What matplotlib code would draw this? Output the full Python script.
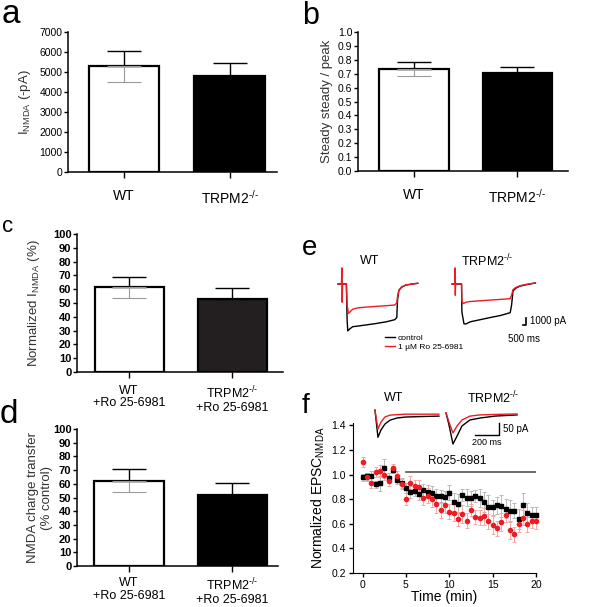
import numpy as np
import matplotlib
matplotlib.use('Agg')
import matplotlib.pyplot as plt

plt.rcParams['font.family'] = ['Liberation Sans', 'DejaVu Sans']
plt.rcParams['mathtext.fontset'] = 'custom'
plt.rcParams['mathtext.rm'] = 'Liberation Sans'
plt.rcParams['mathtext.it'] = 'Liberation Sans:italic'
plt.rcParams['mathtext.bf'] = 'Liberation Sans:bold'

W, H = 600, 607
RED = '#ed1c24'
KO = r'TRPM2$^{\text{-/-}}$'

# bar panels a-d
groups_ab = ['WT', KO]
groups_cd = ['WT\n+Ro 25-6981', KO + '\n+Ro 25-6981']

inmda_mean = [5280, 4820]
inmda_sem = [780, 620]
steady_mean = [0.734, 0.707]
steady_sem = [0.047, 0.041]
norm_inmda_mean = [61.5, 52.6]
norm_inmda_sem = [7.6, 8.4]
charge_mean = [62.3, 51.8]
charge_sem = [8.5, 9.0]

# panel e: NMDA current traces (s, pA)
e_wt_ctrl_t = [0, 1.2, 1.3, 1.4, 1.7, 2.1, 2.9, 4.0, 5.4, 6.9, 8.1, 8.4, 8.5, 8.7, 9.1, 9.7, 10.6, 11.4]
e_wt_ctrl_i = [0, 0, -5100, -6700, -6400, -6100, -6000, -5850, -5650, -5400, -5100, -4800, -2300, -900, -450, -150, 0, 100]
e_wt_ro_t = [0, 0.5, 0.55, 0.6, 0.65, 1.2, 1.3, 1.5, 2.1, 2.9, 4.0, 5.4, 6.9, 8.1, 8.4, 8.5, 8.7, 9.1, 9.7, 10.6, 11.4]
e_wt_ro_i = [0, 0, 2300, -2600, 0, 0, -3000, -4200, -3600, -3400, -3300, -3200, -3100, -3000, -2700, -1800, -900, -400, -150, 0, 100]
e_ko_ctrl_t = [0, 1.35, 1.4, 1.7, 2.0, 2.6, 4.0, 5.4, 6.9, 8.3, 8.5, 8.7, 9.1, 9.7, 10.6, 11.9]
e_ko_ctrl_i = [0, 0, -4000, -5700, -5700, -5400, -5100, -4800, -4500, -4100, -3000, -1000, -600, -300, -100, 150]
e_ko_ro_t = [0, 0.4, 0.43, 0.46, 0.5, 1.35, 1.4, 1.6, 2.0, 2.6, 4.0, 5.4, 6.9, 8.3, 8.5, 8.7, 9.1, 9.7, 10.6, 11.9]
e_ko_ro_i = [0, 0, 2300, -1600, 0, 0, -2400, -2800, -2600, -2500, -2400, -2300, -2200, -2100, -1600, -800, -500, -250, -50, 150]

# panel f: time course of normalized EPSC
time_min = np.arange(0, 20.5, 0.5)
epsc_wt = [0.978, 0.986, 0.99, 0.92, 0.93, 1.05, 0.975, 1.04, 0.96, 0.93,
           0.89, 0.856, 0.87, 0.846, 0.873, 0.862, 0.85, 0.83, 0.824, 0.816,
           0.854, 0.778, 0.765, 0.836, 0.813, 0.808, 0.824, 0.81, 0.776, 0.735,
           0.735, 0.75, 0.743, 0.724, 0.705, 0.708, 0.638, 0.75, 0.687, 0.673, 0.673]
epsc_wt_sem = [0.03, 0.03, 0.04, 0.03, 0.06, 0.08, 0.04, 0.03, 0.04, 0.04,
               0.04, 0.05, 0.04, 0.05, 0.05, 0.05, 0.06, 0.05, 0.05, 0.05,
               0.06, 0.07, 0.08, 0.05, 0.07, 0.06, 0.05, 0.07, 0.08, 0.1,
               0.06, 0.07, 0.09, 0.08, 0.09, 0.06, 0.08, 0.1, 0.08, 0.06, 0.06]
epsc_ko = [1.105, 0.98, 0.93, 1.02, 1.03, 1.0, 0.95, 1.057, 0.99, 0.925,
           0.80, 0.935, 0.91, 0.90, 0.81, 0.83, 0.80, 0.76, 0.71, 0.75,
           0.70, 0.69, 0.64, 0.68, 0.625, 0.71, 0.655, 0.65, 0.66, 0.62,
           0.59, 0.565, 0.615, 0.673, 0.55, 0.515, 0.595, 0.65, 0.595, 0.625, 0.62]
epsc_ko_sem = [0.04, 0.03, 0.04, 0.04, 0.05, 0.04, 0.04, 0.03, 0.04, 0.04,
               0.05, 0.05, 0.05, 0.06, 0.06, 0.06, 0.06, 0.07, 0.06, 0.06,
               0.06, 0.07, 0.06, 0.07, 0.06, 0.05, 0.06, 0.06, 0.07, 0.06,
               0.07, 0.06, 0.07, 0.06, 0.07, 0.06, 0.06, 0.06, 0.06, 0.06, 0.06]
ro_window = [5, 20]

# panel f inset: EPSC traces (ms, pA)
f_trace_t_wt = [0, 25, 50, 83, 125, 183, 250, 375, 533]
f_wt_ctrl = [0, -113, -83, -58, -42, -33, -29, -27, -25]
f_wt_ro = [0, -79, -50, -29, -21, -19, -17, -17, -17]
f_trace_t_ko = [0, 25, 58, 92, 133, 200, 283, 408, 592]
f_ko_ctrl = [-12, -62, -141, -108, -66, -41, -33, -25, -20]
f_ko_ro = [-12, -50, -95, -66, -41, -25, -20, -18, -16]

fig = plt.figure(figsize=(W / 100, H / 100), dpi=100)


def px_axes(x0, y0, x1, y1):
    return fig.add_axes([x0 / W, 1 - y1 / H, (x1 - x0) / W, (y1 - y0) / H])


def fig_text(x, y, s, **kw):
    fig.text(x / W, 1 - y / H, s, **kw)


def bar_panel(ax, means, sems, fills, ylim, yticks, ylabel, xlabels, xlim,
              label_x, tick_weight='normal', tick_fs=7.5, xfs=10, xpad=8):
    pos = np.arange(len(means))
    ax.bar(pos, means, width=0.67, color=fills, edgecolor='black', linewidth=1.6, zorder=2)
    for p, m, s, c in zip(pos, means, sems, fills):
        ax.errorbar(p, m, yerr=[[0], [s]], color='black', lw=1.0, capsize=12, capthick=1.0, zorder=3)
        ax.errorbar(p, m, yerr=[[s], [0]], color='#9a9a9a', lw=0.8, capsize=12, capthick=0.8,
                    zorder=3 if c == 'white' else 1)
    ax.set_xlim(*xlim)
    ax.set_ylim(*ylim)
    ax.set_yticks(yticks)
    ax.set_xticks(pos)
    ax.set_xticklabels(xlabels, fontsize=xfs, linespacing=1.05)
    for lab in ax.get_yticklabels():
        lab.set_fontweight(tick_weight)
    for side in ['top', 'right']:
        ax.spines[side].set_visible(False)
    for side in ['left', 'bottom']:
        ax.spines[side].set_linewidth(1.1)
    ax.tick_params(axis='y', direction='out', length=3, width=1, labelsize=tick_fs, pad=1)
    ax.tick_params(axis='x', direction='out', length=4, width=1, pad=xpad)
    ax.set_ylabel(ylabel, fontsize=9.5, color='#333333')
    ax.yaxis.set_label_coords(label_x, 0.5)


# a
ax = px_axes(68, 32, 277, 172)
bar_panel(ax, inmda_mean, inmda_sem, ['white', 'black'], (0, 7000), range(0, 7001, 1000),
          r'I$_{\rm NMDA}$ (-pA)', groups_ab, (-0.53, 1.45), -0.167)
fig_text(2, 23, 'a', fontsize=24, va='baseline')

# b
ax = px_axes(358, 32, 568, 171)
bar_panel(ax, steady_mean, steady_sem, ['white', 'black'], (0, 1.0), np.round(np.arange(0, 1.01, 0.1), 1),
          'Steady steady / peak', groups_ab, (-0.54, 1.49), -0.119)
ax.set_yticklabels([f'{v:.1f}' for v in np.arange(0, 1.01, 0.1)])
fig_text(302, 24, 'b', fontsize=22, va='baseline')

# c
ax = px_axes(77, 234, 283, 372)
bar_panel(ax, norm_inmda_mean, norm_inmda_sem, ['white', '#231f20'], (0, 100), range(0, 101, 10),
          r'Normalized I$_{\rm NMDA}$ (%)', groups_cd, (-0.505, 1.495), -0.17,
          tick_weight='bold', tick_fs=8, xfs=9, xpad=5)
fig_text(2, 232, 'c', fontsize=16, va='baseline')

# d
ax = px_axes(77, 429, 278, 566)
bar_panel(ax, charge_mean, charge_sem, ['white', 'black'], (0, 100), range(0, 101, 10),
          'NMDA charge transfer\n(% control)', groups_cd, (-0.5, 1.44), -0.119,
          tick_weight='bold', tick_fs=8, xfs=9, xpad=4)
fig_text(0, 423, 'd', fontsize=24, va='baseline')

# e
ax = px_axes(320, 250, 600, 355)
ko_offset = 16.3
l_ctrl, = ax.plot(e_wt_ctrl_t, e_wt_ctrl_i, color='black', lw=1.0)
l_ro, = ax.plot(e_wt_ro_t, e_wt_ro_i, color=RED, lw=1.0)
ax.plot(np.array(e_ko_ctrl_t) + ko_offset, e_ko_ctrl_i, color='black', lw=1.0)
ax.plot(np.array(e_ko_ro_t) + ko_offset, e_ko_ro_i, color=RED, lw=1.0)
ax.plot([26.36, 26.86, 26.86], [-5857, -5857, -4857], color='black', lw=1.2)
ax.text(27.4, -5300, '1000 pA', fontsize=7, va='center', ha='left')
ax.text(26.6, -7100, '500 ms', fontsize=7, va='top', ha='center')
ax.set_xlim(-2.571, 37.43)
ax.set_ylim(-10143, 4857)
ax.axis('off')
ax.legend([l_ctrl, l_ro], ['control', '1 \u00b5M Ro 25-6981'], loc='upper left',
          bbox_to_anchor=(385 / W, 1 - 334 / H), bbox_transform=fig.transFigure,
          frameon=False, fontsize=6, handlelength=1.2, handletextpad=0.3,
          labelspacing=0.15, borderpad=0, borderaxespad=0)
fig_text(370, 261, 'WT', fontsize=9, ha='center', va='center')
fig_text(487, 261, KO, fontsize=9, ha='center', va='center')
fig_text(302, 255, 'e', fontsize=20, va='baseline')

# f
ax = px_axes(353, 423, 536, 573)
ax.errorbar(time_min, epsc_wt, yerr=epsc_wt_sem, fmt='s', color='black', ms=3.0,
            ecolor='#b8b8b8', elinewidth=0.7, capsize=1.5, capthick=0.7, clip_on=False)
ax.errorbar(time_min, epsc_ko, yerr=epsc_ko_sem, fmt='o', color=RED, ms=3.0,
            ecolor='#f5a8a8', elinewidth=0.7, capsize=1.5, capthick=0.7, clip_on=False)
ax.plot(ro_window, [1.025, 1.025], color='#555555', lw=1.2)
ax.text(10.9, 1.107, 'Ro25-6981', fontsize=8.5, ha='center', va='center')
ax.set_xlim(-1.1, 20)
ax.set_ylim(0.2, 1.42)
ax.set_xticks([0, 5, 10, 15, 20])
ax.set_yticks([0.2, 0.4, 0.6, 0.8, 1.0, 1.2, 1.4])
ax.set_yticklabels(['0.2', '0.4', '0.6', '0.8', '1.0', '1.2', '1.4'])
for side in ['top', 'right']:
    ax.spines[side].set_visible(False)
ax.tick_params(direction='out', length=3, width=1, labelsize=7.5, pad=2)
ax.set_ylabel(r'Normalized EPSC$_{\rm NMDA}$', fontsize=10)
ax.yaxis.set_label_coords(-0.142, 0.5)
ax.set_xlabel('Time (min)', fontsize=10)
ax.xaxis.set_label_coords(0.5, -0.113)
fig_text(302, 413, 'f', fontsize=20, va='baseline')

# f inset traces
ax = px_axes(365, 400, 545, 450)
ko_shift = 592
ax.plot(f_trace_t_wt, f_wt_ctrl, color='black', lw=1.0)
ax.plot(f_trace_t_wt, f_wt_ro, color=RED, lw=1.0)
ax.plot(np.array(f_trace_t_ko) + ko_shift, f_ko_ctrl, color='black', lw=1.0)
ax.plot(np.array(f_trace_t_ko) + ko_shift, f_ko_ro, color=RED, lw=1.0)
ax.plot([833, 1033, 1033], [-104, -104, -54], color='black', lw=1.0)
ax.text(1065, -79, '50 pA', fontsize=7, ha='left', va='center')
ax.text(933, -118, '200 ms', fontsize=6.5, ha='center', va='top')
ax.set_xlim(-83, 1417)
ax.set_ylim(-166, 42)
ax.axis('off')
fig_text(394, 398, 'WT', fontsize=9, ha='center', va='center')
fig_text(493, 398, KO, fontsize=9, ha='center', va='center')

fig.savefig('out.png', dpi=100)
